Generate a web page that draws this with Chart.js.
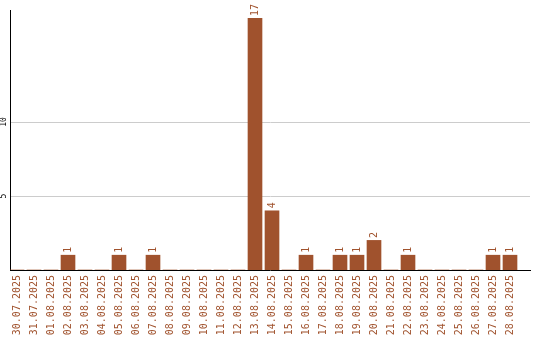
<!DOCTYPE html>
<html>
<head>
<meta charset="utf-8">
<script src="https://cdn.jsdelivr.net/npm/chart.js@4/dist/chart.umd.min.js"></script>
<style>
html,body{margin:0;padding:0;background:#fff;}
#wrap{width:540px;height:340px;}
</style>
</head>
<body>
<div id="wrap"><canvas id="c" width="540" height="340"></canvas></div>
<script>
const categories = ["30.07.2025","31.07.2025","01.08.2025","02.08.2025","03.08.2025","04.08.2025","05.08.2025","06.08.2025","07.08.2025","08.08.2025","09.08.2025","10.08.2025","11.08.2025","12.08.2025","13.08.2025","14.08.2025","15.08.2025","16.08.2025","17.08.2025","18.08.2025","19.08.2025","20.08.2025","21.08.2025","22.08.2025","23.08.2025","24.08.2025","25.08.2025","26.08.2025","27.08.2025","28.08.2025"];
const counts = [0,0,0,1,0,0,1,0,1,0,0,0,0,0,17,4,0,1,0,1,1,2,0,1,0,0,0,0,1,1];
const yTickValues = [5,10];

const BROWN = '#a0522d';
const FONT = '"DejaVu Sans Mono", monospace';

const valueLabels = {
  id: 'valueLabels',
  afterDatasetsDraw(chart) {
    const ctx = chart.ctx;
    const meta = chart.getDatasetMeta(0);
    ctx.save();
    ctx.fillStyle = BROWN;
    ctx.font = '10px ' + FONT;
    ctx.textAlign = 'left';
    ctx.textBaseline = 'middle';
    meta.data.forEach((el, i) => {
      const v = counts[i];
      if (!v) return;
      ctx.save();
      ctx.translate(el.x, el.y - 2.5);
      ctx.rotate(-Math.PI / 2);
      ctx.fillText(String(v), 0, 0);
      ctx.restore();
    });
    ctx.restore();
  }
};

const yLabels = {
  id: 'yLabels',
  afterDraw(chart) {
    const ctx = chart.ctx;
    const ys = chart.scales.y;
    ctx.save();
    ctx.fillStyle = '#000';
    ctx.font = '8px ' + FONT;
    ctx.textAlign = 'center';
    ctx.textBaseline = 'middle';
    ys.ticks.forEach(t => {
      ctx.save();
      ctx.translate(chart.chartArea.left - 6, ys.getPixelForValue(t.value));
      ctx.rotate(-Math.PI / 2);
      ctx.fillText(String(t.value), 0, 0);
      ctx.restore();
    });
    ctx.restore();
  }
};

new Chart(document.getElementById('c'), {
  type: 'bar',
  data: {
    datasets: [{
      data: counts.map((v, i) => ({x: i, y: v})),
      backgroundColor: BROWN,
      borderWidth: 0,
      barThickness: 14
    }]
  },
  options: {
    responsive: false,
    animation: false,
    devicePixelRatio: 1,
    layout: {padding: {top: 10, right: 10, left: 0, bottom: 0}},
    plugins: {legend: {display: false}, tooltip: {enabled: false}},
    scales: {
      x: {
        type: 'linear',
        offset: false,
        min: -7/17,
        max: 513/17,
        afterBuildTicks(scale) { scale.ticks = categories.map((c, i) => ({value: i})); },
        afterFit(scale) { scale.height = 70; },
        grid: {display: false, drawTicks: false, offset: false},
        border: {display: true, color: '#000', width: 1},
        ticks: {
          autoSkip: false,
          minRotation: 90,
          maxRotation: 90,
          padding: 5,
          color: BROWN,
          font: {family: FONT, size: 10},
          callback: (v) => categories[v]
        }
      },
      y: {
        min: 0,
        max: 17.57,
        afterBuildTicks(scale) { scale.ticks = yTickValues.map(v => ({value: v})); },
        afterFit(scale) { scale.width = 10; },
        grid: {color: '#cccccc', drawTicks: false},
        border: {display: true, color: '#000', width: 1},
        ticks: {display: false}
      }
    }
  },
  plugins: [valueLabels, yLabels]
});
</script>
</body>
</html>
